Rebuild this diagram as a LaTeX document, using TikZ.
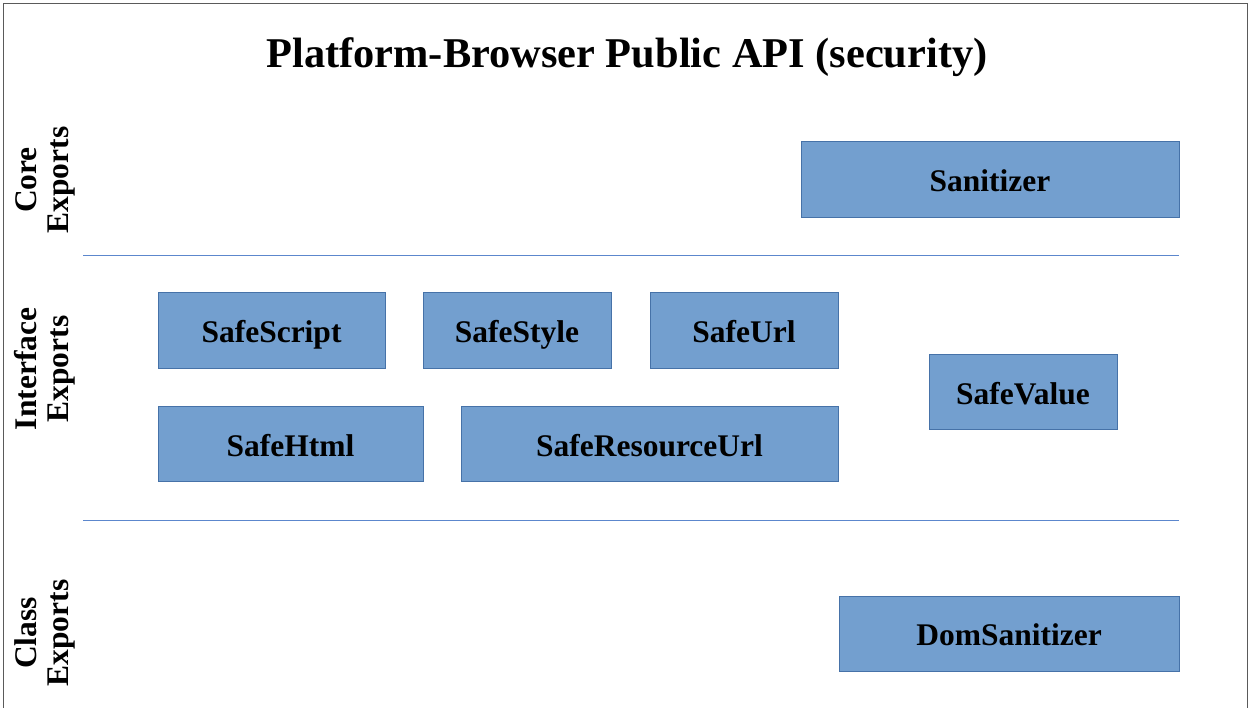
\documentclass[tikz,border=0pt]{standalone}
\usepackage{fontspec}
\setmainfont{Liberation Serif}
\definecolor{boxfill}{RGB}{115,159,207}
\definecolor{boxdraw}{RGB}{70,114,168}
\definecolor{sepline}{RGB}{92,135,205}
\definecolor{framecol}{RGB}{90,90,90}
\begin{document}
\begin{tikzpicture}[x=1pt,y=-1pt,
  apibox/.style={draw=boxdraw, fill=boxfill, line width=1pt, inner sep=0pt,
    minimum height=76pt, text height=24pt, text depth=0pt,
    font=\fontsize{31.5}{33}\selectfont\bfseries},
  sidelabel/.style={rotate=90, align=center, inner sep=0pt,
    font=\fontsize{31.5}{32}\selectfont\bfseries},
  sep/.style={draw=sepline, line width=1pt}]
\useasboundingbox (0,0) rectangle (1251,708);
\draw[framecol, line width=1.3pt] (3.5,708) -- (3.5,3.5) -- (1247.5,3.5) -- (1247.5,708);

\node[anchor=base, font=\fontsize{42.4}{44}\selectfont\bfseries] (title) at (627,68) {Platform-Browser Public API (security)};

\node[sidelabel] (core) at (45,180) {Core\\Exports};
\node[sidelabel] (iface) at (45,369) {Interface\\Exports};
\node[sidelabel] (class) at (45,633) {Class\\Exports};

\coordinate (s1a) at (83,256);
\coordinate (s1b) at (1179,256);
\coordinate (s2a) at (83,520);
\coordinate (s2b) at (1179,520);
\draw[sep] (s1a) -- (s1b);
\draw[sep] (s2a) -- (s2b);

\node[apibox, minimum width=378pt] (sanitizer) at (990,180) {Sanitizer};
\node[apibox, minimum width=227pt] (safescript) at (271.5,331) {SafeScript};
\node[apibox, minimum width=188pt] (safestyle) at (517,331) {SafeStyle};
\node[apibox, minimum width=188pt] (safeurl) at (744,331) {SafeUrl};
\node[apibox, minimum width=188pt, minimum height=75pt] (safevalue) at (1023,392.5) {SafeValue};
\node[apibox, minimum width=265pt, minimum height=75pt] (safehtml) at (290.5,444.5) {SafeHtml};
\node[apibox, minimum width=377pt, minimum height=75pt] (saferes) at (649.5,444.5) {SafeResourceUrl};
\node[apibox, minimum width=340pt, minimum height=75pt] (domsan) at (1009,633.5) {DomSanitizer};
\end{tikzpicture}
\end{document}
